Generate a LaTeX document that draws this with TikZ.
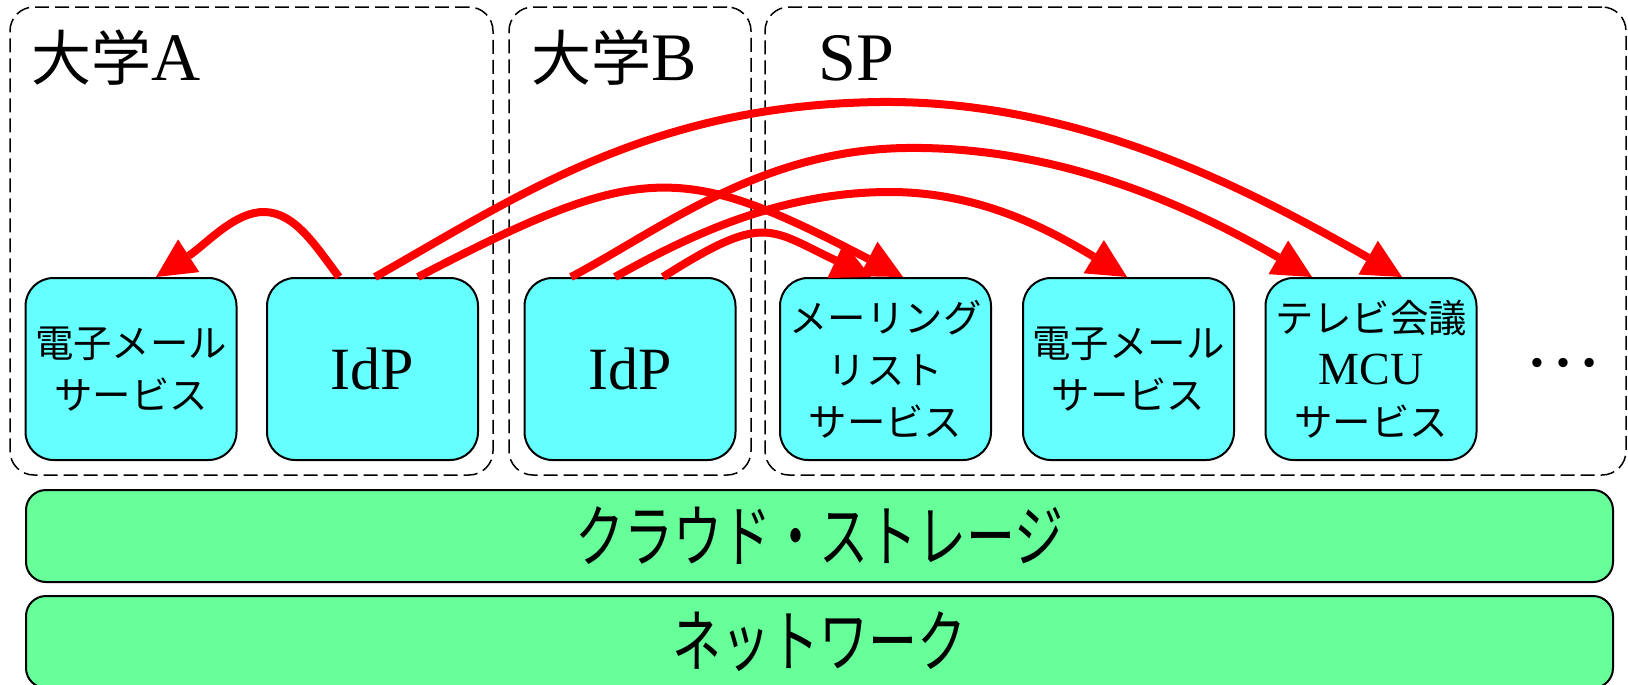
\documentclass[tikz,border=0pt]{standalone}
\usepackage{fontspec}
\setmainfont{Liberation Serif}
\newfontfamily\jp{Noto Sans CJK JP}
\usetikzlibrary{arrows.meta,calc}
\definecolor{boxcyan}{RGB}{102,255,255}
\definecolor{bargreen}{RGB}{102,255,153}
\definecolor{arrowred}{RGB}{255,0,0}
\begin{document}
\begin{tikzpicture}[x=0.5pt,y=-0.5pt,
  grp/.style={draw=black, line width=0.75pt, dash pattern=on 7pt off 3pt, rounded corners=12pt, minimum height=234pt, inner sep=0pt},
  svc/.style={draw=black, line width=1pt, fill=boxcyan, rounded corners=14pt, minimum width=105.5pt, minimum height=91pt, inner sep=0pt, align=center, font=\jp\fontsize{19.2pt}{26pt}\selectfont},
  bar/.style={draw=black, line width=1pt, fill=bargreen, rounded corners=10pt, minimum width=793.5pt, minimum height=46pt, inner sep=0pt, font=\jp\fontsize{34pt}{40pt}\selectfont},
  grplabel/.style={anchor=base west, inner sep=0pt, font=\fontsize{34pt}{40pt}\selectfont},
  flow/.style={draw=arrowred, line width=4pt, -{Triangle[length=19.5pt,width=19.5pt,line width=0pt]}}]
\useasboundingbox (0,0) rectangle (1628,685);
% groups
\node[grp, minimum width=241.5pt] (univA) at (251.5,241) {};
\node[grp, minimum width=121pt] (univB) at (630,241) {};
\node[grp, minimum width=430.5pt] (sp) at (1195.5,241) {};
\node[grplabel] (lblA) at (31,80) {{\jp\fontsize{30pt}{36pt}\selectfont 大学}A};
\node[grplabel] (lblB) at (531,80) {{\jp\fontsize{30pt}{36pt}\selectfont 大学}B};
\node[grplabel] (lblSP) at (818,80) {SP};
% services
\node[svc] (maila) at (131,369) {電子メール\\サービス};
\node[svc, font=\fontsize{30pt}{36pt}\selectfont] (idpa) at (372.5,369) {IdP};
\node[svc, font=\fontsize{30pt}{36pt}\selectfont] (idpb) at (630,369) {IdP};
\node[svc] (ml) at (885.5,369) {メーリング\\リスト\\サービス};
\node[svc] (mailsp) at (1128.5,369) {電子メール\\サービス};
\node[svc] (tv) at (1371,369) {テレビ会議\\{\rmfamily\fontsize{23pt}{26pt}\selectfont MCU}\\サービス};
\node[inner sep=0pt, font=\fontsize{39pt}{40pt}\selectfont] (dots) at (1563,363) {…};
% bars
\node[bar] (cloud) at (819.5,536) {\scalebox{0.72}[1]{クラウド・ストレージ}};
\node[bar] (net) at (819.5,642) {\scalebox{0.72}[1]{ネットワーク}};
% flows
\draw[flow] ($(idpa.north)+(-33.5,0)$) .. controls (315,245) and (295,213) .. (265,212) .. controls (235,211) and (206,244.5) .. ($(maila.north)+(25,0)$);
\draw[flow] ($(idpa.north)+(2.5,0)$) .. controls (520,195) and (650,105) .. (880,102) .. controls (1080,100) and (1250,190) .. ($(tv.north)+(31,0)$);
\draw[flow] ($(idpa.north)+(45.5,0)$) .. controls (641,161) and (681,161) .. ($(ml.north)+(17.5,0)$);
\draw[flow] ($(idpb.north)+(-59,0)$) .. controls (660,230) and (760,150) .. (906,148) .. controls (1050,146) and (1180,200) .. ($(tv.north)+(-59,0)$);
\draw[flow] ($(idpb.north)+(-15,0)$) .. controls (690,235) and (780,192) .. (890,192) .. controls (980,192) and (1050,230) .. ($(mailsp.north)+(-1.5,0)$);
\draw[flow] ($(idpb.north)+(33,0)$) .. controls (765,212) and (769,229) .. ($(ml.north)+(-14.5,0)$);
\end{tikzpicture}
\end{document}
